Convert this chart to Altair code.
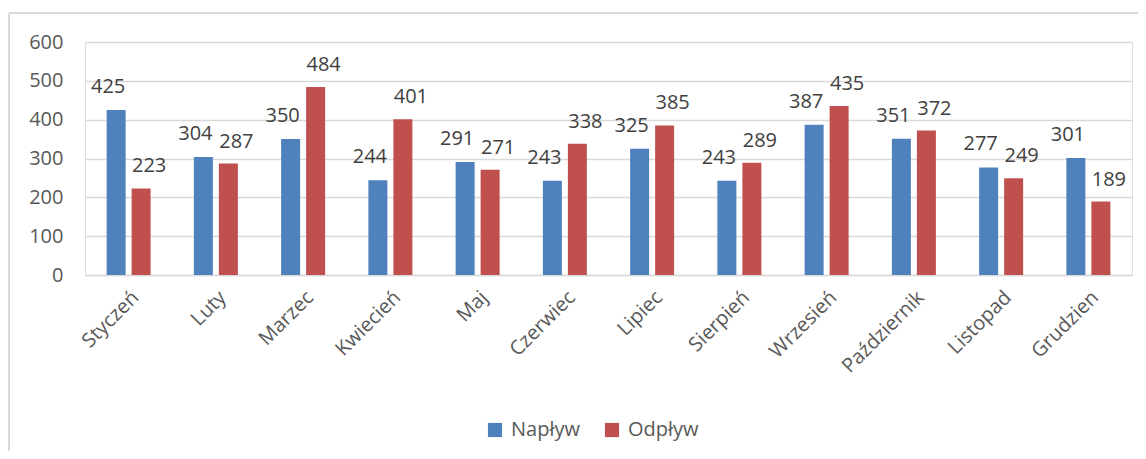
import altair as alt
import pandas as pd

months = ["Styczeń", "Luty", "Marzec", "Kwiecień", "Maj", "Czerwiec", "Lipiec",
          "Sierpień", "Wrzesień", "Październik", "Listopad", "Grudzien"]
naplyw = [425, 304, 350, 244, 291, 243, 325, 243, 387, 351, 277, 301]
odplyw = [223, 287, 484, 401, 271, 338, 385, 289, 435, 372, 249, 189]
series = ["Napływ", "Odpływ"]
colors = ["#4f81bd", "#c0504d"]

rows = []
for m, a, b in zip(months, naplyw, odplyw):
    rows.append({"month": m, "series": series[0], "value": a})
    rows.append({"month": m, "series": series[1], "value": b})
df = pd.DataFrame(rows)

FONT = "Open Sans"
FS = 20

x = alt.X("month:N", sort=months, title=None,
          scale=alt.Scale(paddingInner=0, paddingOuter=0),
          axis=alt.Axis(labelAngle=-45, labelFontSize=FS, labelColor="#595959",
                        labelFont=FONT, ticks=False, domain=True, domainColor="#d9d9d9",
                        domainWidth=1.5, labelPadding=12, grid=False))
xo = alt.XOffset("series:N", sort=series,
                 scale=alt.Scale(paddingInner=0.24, paddingOuter=0.865))
y = alt.Y("value:Q", title=None,
          scale=alt.Scale(domain=[0, 600]),
          axis=alt.Axis(values=[0, 100, 200, 300, 400, 500, 600], labelFontSize=FS,
                        labelColor="#595959", labelFont=FONT, ticks=False, domain=False,
                        gridColor="#d9d9d9", gridWidth=1.5, labelPadding=22))

color = alt.Color("series:N", sort=series,
                  scale=alt.Scale(domain=series, range=colors),
                  legend=alt.Legend(title=None, orient="none", legendX=400, legendY=378,
                                    direction="horizontal", symbolType="square",
                                    symbolSize=200, symbolStrokeWidth=0,
                                    labelFontSize=FS, labelColor="#595959", labelFont=FONT,
                                    columnPadding=22, labelOffset=6))

base = alt.Chart(df)

bars = base.mark_bar().encode(x=x, xOffset=xo, y=y, color=color)

lab_a = base.transform_filter(alt.datum.series == series[0]).mark_text(
    baseline="bottom", dy=-13, dx=-8, fontSize=FS, color="#404040", font=FONT
).encode(x=x, xOffset=xo, y=y, text="value:Q")

lab_b = base.transform_filter(alt.datum.series == series[1]).mark_text(
    baseline="bottom", dy=-12, dx=8, fontSize=FS, color="#404040", font=FONT
).encode(x=x, xOffset=xo, y=y, text="value:Q")

frame_left = alt.Chart(pd.DataFrame({"k": [0]})).mark_rule(color="#d9d9d9", strokeWidth=2).encode(
    x=alt.value(-76), y=alt.value(-29), y2=alt.value(460))
frame_top = alt.Chart(pd.DataFrame({"k": [0]})).mark_rule(color="#d9d9d9", strokeWidth=2).encode(
    x=alt.value(-76), x2=alt.value(1070), y=alt.value(-29))

chart = alt.layer(frame_left, frame_top, bars, lab_a, lab_b).properties(
    width=1047, height=233,
    autosize=alt.AutoSizeParams(type="none"),
    padding={"left": 77, "top": 34, "right": 6, "bottom": 176},
).configure_view(stroke=None).configure(background="white")

chart.save("out.html", embed_options={"renderer": "svg", "actions": False})
